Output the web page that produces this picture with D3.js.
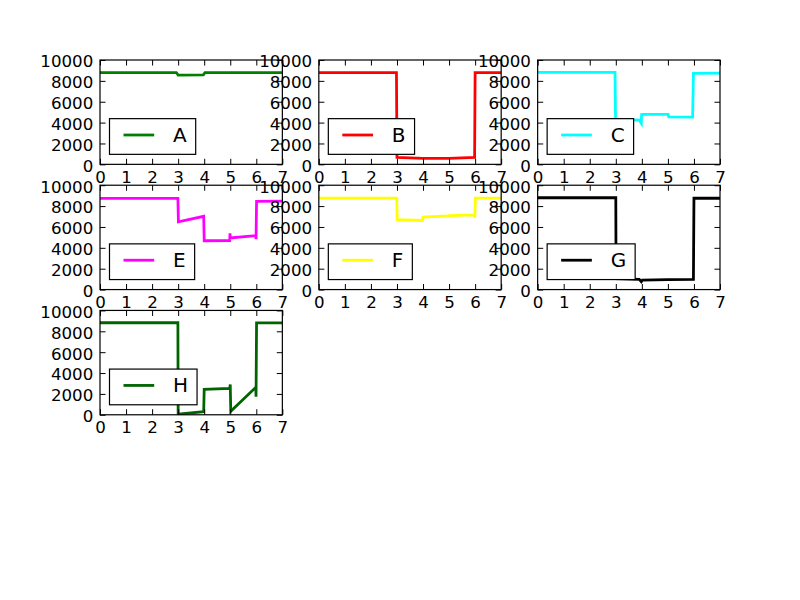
<!DOCTYPE html>
<html>
<head>
<meta charset="utf-8">
<script src="https://cdn.jsdelivr.net/npm/d3@7"></script>
<style>
  html, body { margin: 0; padding: 0; background: #ffffff; }
  svg { display: block; }
  text { font-family: "DejaVu Sans", sans-serif; }
</style>
</head>
<body>
<svg id="chart" width="800" height="600"></svg>
<script>
// ---- data ----
const names = ["A", "B", "C", "E", "F", "G", "H"];
const xTicks = [0, 1, 2, 3, 4, 5, 6, 7];
const yTicks = [0, 2000, 4000, 6000, 8000, 10000];

const xA = [0, 2.93, 3.0, 3.97, 4.03, 7];
const yA = [8800, 8800, 8560, 8580, 8800, 8780];

const xB = [0, 2.98, 3.0, 4.0, 5.0, 5.98, 6.0, 7];
const yB = [8780, 8780, 670, 570, 580, 660, 8780, 8780];

const xC = [0, 2.97, 2.99, 3.9, 3.98, 3.99, 4.0, 5.01, 5.03, 5.95, 5.98, 7];
const yC = [8820, 8820, 4300, 4240, 3930, 4890, 4790, 4780, 4560, 4520, 8720, 8740];

const xE = [0, 2.99, 3.01, 3.98, 4.0, 4.98, 4.99, 5.0, 5.98, 5.99, 6.01, 7];
const yE = [8745, 8745, 6500, 7020, 4680, 4700, 5390, 4950, 5160, 4820, 8460, 8480];

const xF = [0, 2.99, 3.01, 3.98, 4.0, 4.98, 5.0, 5.98, 5.99, 6.01, 7];
const yF = [8760, 8760, 6700, 6620, 6950, 7050, 7080, 7150, 6880, 8760, 8760];

const xG = [0, 3.0, 3.01, 3.9, 3.98, 4.02, 5.0, 5.98, 6.0, 7];
const yG = [8800, 8800, 1050, 980, 750, 910, 950, 980, 8750, 8750];

const xH = [0, 2.99, 3.0, 3.98, 4.0, 4.98, 5.0, 5.02, 5.98, 5.99, 6.01, 7];
const yH = [8820, 8820, 60, 290, 2430, 2530, 2910, 330, 2630, 1730, 8800, 8800];

const xs = [xA, xB, xC, xE, xF, xG, xH];
const ys = [yA, yB, yC, yE, yF, yG, yH];
const colors = ["#008000", "#ff0000", "#00ffff", "#ff00ff", "#ffff00", "#000000", "#006400"];

// ---- layout (matplotlib 4x3 subplot grid) ----
const W = 800, H = 600;
const gLeft = 0.125 * W, gRight = 0.9 * W, gTop = 0.1 * H, gBottom = 0.9 * H;
const nRows = 4, nCols = 3, space = 0.2;
const cellW = (gRight - gLeft) / (nCols + (nCols - 1) * space);
const cellH = (gBottom - gTop) / (nRows + (nRows - 1) * space);
const tickLen = 5.56;
const fontTick = 16.67;
const fontLegend = 20;

const svg = d3.select("#chart");

names.forEach((name, i) => {
  const row = Math.floor(i / nCols), col = i % nCols;
  const x0 = gLeft + col * cellW * (1 + space);
  const y0 = gTop + row * cellH * (1 + space);

  const x = d3.scaleLinear().domain([0, 7]).range([0, cellW]);
  const y = d3.scaleLinear().domain([0, 10000]).range([cellH, 0]);

  const g = svg.append("g").attr("transform", `translate(${x0},${y0})`);

  g.append("rect").attr("x", 0).attr("y", 0).attr("width", cellW).attr("height", cellH)
    .attr("fill", "#ffffff");

  const clipId = "clip" + i;
  g.append("clipPath").attr("id", clipId).append("rect")
    .attr("x", 0).attr("y", 0).attr("width", cellW).attr("height", cellH);

  const pts = xs[i].map((v, k) => [v, ys[i][k]]);
  const line = d3.line().x(d => x(d[0])).y(d => y(d[1]));
  g.append("path").datum(pts)
    .attr("clip-path", `url(#${clipId})`)
    .attr("fill", "none").attr("stroke", colors[i])
    .attr("stroke-width", 2.78).attr("stroke-linejoin", "miter")
    .attr("d", line);

  // axes: bottom with labels, top ticks only, left with labels, right ticks only
  const axB = d3.axisBottom(x).tickValues(xTicks).tickFormat(d3.format("d"))
    .tickSizeInner(-tickLen).tickSizeOuter(0).tickPadding(6.7);
  const axT = d3.axisTop(x).tickValues(xTicks).tickFormat("")
    .tickSizeInner(-tickLen).tickSizeOuter(0);
  const axL = d3.axisLeft(y).tickValues(yTicks).tickFormat(d3.format("d"))
    .tickSizeInner(-tickLen).tickSizeOuter(0).tickPadding(6.7);
  const axR = d3.axisRight(y).tickValues(yTicks).tickFormat("")
    .tickSizeInner(-tickLen).tickSizeOuter(0);

  const styleAxis = sel => {
    sel.select(".domain").remove();
    sel.selectAll(".tick line").attr("stroke", "#000").attr("stroke-width", 1);
    sel.selectAll(".tick text").attr("fill", "#000")
      .style("font-family", "'DejaVu Sans', sans-serif").style("font-size", fontTick + "px");
  };

  g.append("g").attr("transform", `translate(0,${cellH})`).call(axB).call(styleAxis);
  g.append("g").call(axT).call(styleAxis);
  g.append("g").call(axL).call(styleAxis)
    .selectAll(".tick text").attr("dy", "0.41em");
  g.append("g").attr("transform", `translate(${cellW},0)`).call(axR).call(styleAxis);

  // spines
  g.append("rect").attr("x", 0).attr("y", 0).attr("width", cellW).attr("height", cellH)
    .attr("fill", "none").attr("stroke", "#000").attr("stroke-width", 1.2);

  // legend (lower left)
  const lg = g.append("g");
  const boxH = 35.7;
  const bx = 9.5, by = cellH - 10 - boxH;
  const box = lg.append("rect").attr("x", bx).attr("y", by).attr("height", boxH)
    .attr("fill", "#ffffff").attr("stroke", "#000").attr("stroke-width", 1.2);
  lg.append("line").attr("x1", bx + 14).attr("x2", bx + 44.7)
    .attr("y1", by + boxH / 2 - 1.5).attr("y2", by + boxH / 2 - 1.5)
    .attr("stroke", colors[i]).attr("stroke-width", 2.78);
  const t = lg.append("text").attr("x", bx + 63.5).attr("y", by + boxH - 12.4)
    .style("font-size", fontLegend + "px").attr("fill", "#000").text(name);
  const tw = t.node().getComputedTextLength();
  box.attr("width", 63.5 + tw + 9);
});
</script>
</body>
</html>
